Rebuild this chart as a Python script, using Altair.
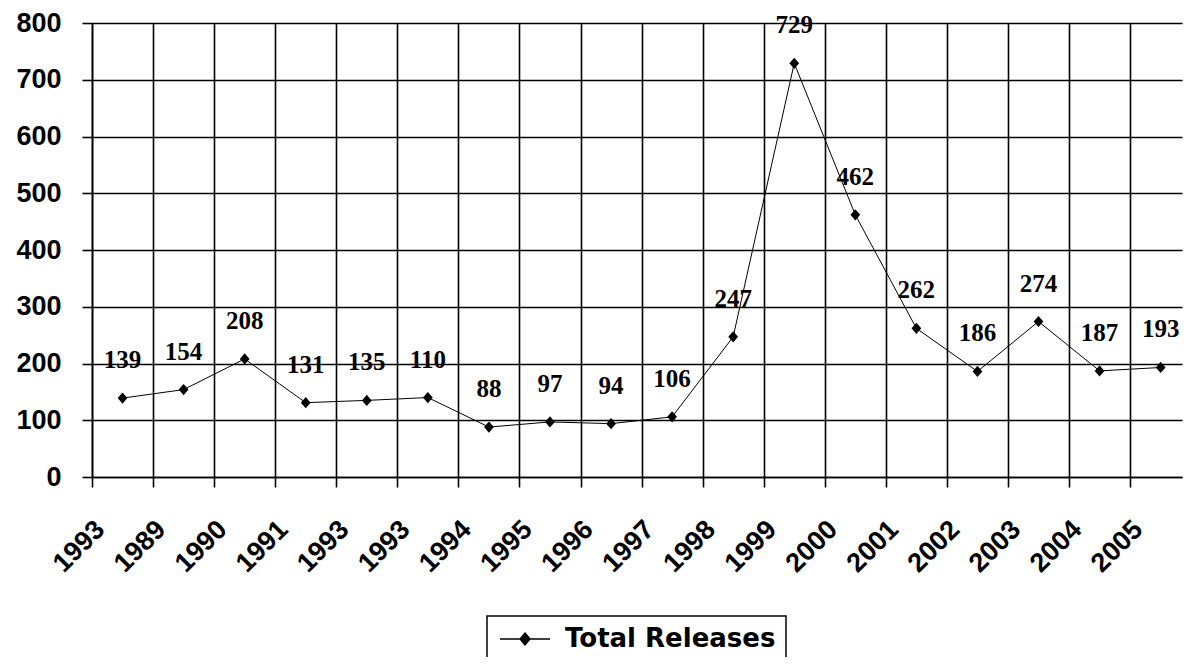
import altair as alt
import pandas as pd

categories = ["1993", "1989", "1990", "1991", "1993", "1993", "1994", "1995", "1996",
              "1997", "1998", "1999", "2000", "2001", "2002", "2003", "2004", "2005"]
values = [139, 154, 208, 131, 135, 140, 88, 97, 94, 106, 247, 729, 462, 262, 186, 274, 187, 193]
value_labels = ["139", "154", "208", "131", "135", "110", "88", "97", "94", "106", "247",
                "729", "462", "262", "186", "274", "187", "193"]
series_name = "Total Releases"
y_ticks = [0, 100, 200, 300, 400, 500, 600, 700, 800]

n = len(categories)
df = pd.DataFrame({
    "pos": [i + 0.5 for i in range(n)],
    "v": values,
    "t": value_labels,
    "s": [series_name] * n,
})

label_js = "[" + ",".join("'%s'" % c for c in categories) + "]"
boundaries = list(range(n))

x_enc = alt.X(
    "pos:Q",
    scale=alt.Scale(domain=[0, n - 0.15], nice=False, zero=False),
    axis=alt.Axis(
        title=None, values=boundaries, labelExpr=label_js + "[datum.value]",
        labelAngle=-45, labelAlign="right", labelBaseline="middle",
        labelPadding=38, labelOffset=8, labelOverlap=False, labelFlush=False,
        labelBound=False, tickSize=10, grid=True,
    ),
)
y_enc = alt.Y(
    "v:Q",
    scale=alt.Scale(domain=[0, 800], nice=False),
    axis=alt.Axis(title=None, values=y_ticks, tickSize=10, labelPadding=21, grid=True),
)

base = alt.Chart(df).encode(x=x_enc, y=y_enc)

# legend symbol: a line with a (densely outlined, so it reads as filled) diamond
diamond_parts = []
for k in [1.0, 0.75, 0.5, 0.28, 0.08]:
    diamond_parts.append(
        "M1.5,%.3fL%.3f,0L1.5,%.3fL%.3f,0Z" % (-0.6 * k, 1.5 + 0.5 * k, 0.6 * k, 1.5 - 0.5 * k)
    )
legend_path = "M-1,0L4,0" + "".join(diamond_parts)

line = base.mark_line(strokeWidth=1).encode(
    color=alt.Color(
        "s:N",
        scale=alt.Scale(domain=[series_name], range=["black"]),
        legend=alt.Legend(
            title=None, orient="none", legendX=395, legendY=593,
            symbolType=legend_path, symbolSize=400, symbolFillColor="black",
            symbolStrokeColor="black", symbolStrokeWidth=1.4,
            labelFont="DejaVu Sans", labelFontSize=26, labelFontWeight="bold",
            labelColor="black", labelOffset=42, labelLimit=600,
            strokeColor="black", fillColor="white", padding=10,
        ),
    )
)

points = base.mark_point(
    shape="M0,-1.15L1,0L0,1.15L-1,0Z", filled=True, size=95, opacity=1, color="black"
)

texts = base.mark_text(
    font="Liberation Serif", fontSize=25, fontWeight="bold", color="black",
    baseline="alphabetic", align="center", dy=-30,
).encode(text="t:N")

chart = (
    alt.layer(line, points, texts)
    .properties(
        width=1090, height=454,
        autosize=alt.AutoSizeParams(type="none"),
        padding={"left": 84, "top": 15, "right": 1, "bottom": 180},
        background="white",
    )
    .configure_view(stroke=None)
    .configure_axis(
        labelFont="Liberation Sans", labelFontSize=27, labelFontWeight="bold",
        labelColor="black", tickColor="black", tickWidth=1.6, domainColor="black",
        domainWidth=1.6, gridColor="black", gridOpacity=1, gridWidth=1.6,
    )
    .configure_legend(strokeWidth=1.5)
)

chart.save("out.html", embed_options={"renderer": "svg", "actions": False})
